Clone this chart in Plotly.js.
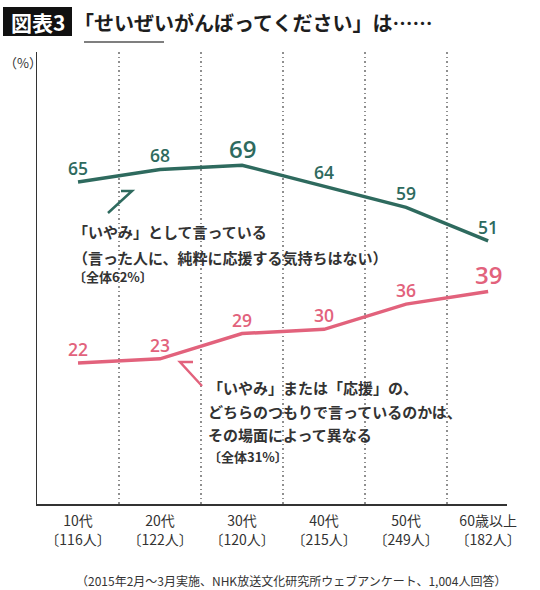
<!DOCTYPE html>
<html><head><meta charset="utf-8">
<script src="https://cdn.plot.ly/plotly-3.0.1.min.js"></script>
<style>html,body{margin:0;padding:0;background:#fff;}#chart{width:540px;height:590px;}</style>
</head><body><div id="chart"></div>
<script>
const categories = ["10代", "20代", "30代", "40代", "50代", "60歳以上"];
const respondents = ["116人", "122人", "120人", "215人", "249人", "182人"];
const iyami = [65, 68, 69, 64, 59, 51];
const dochira = [22, 23, 29, 30, 36, 39];
const titleBadge = "図表3";
const titleText = "「せいぜいがんばってください」は……";
const unitLabel = "（%）";
const noteIyami = ["「いやみ」として言っている", "（言った人に、純粋に応援する気持ちはない）", "〔全体62%〕"];
const noteDochira = ["「いやみ」または「応援」の、", "どちらのつもりで言っているのかは、", "その場面によって異なる", "〔全体31%〕"];
const footer = "（2015年2月～3月実施、NHK放送文化研究所ウェブアンケート、1,004人回答）";

const GREEN = "#2e6a5e", PINK = "#e2627c", TEXT = "#333333";
const JP = "'Noto Sans CJK JP', 'Noto Sans', sans-serif";
const NUM = "'Open Sans', 'Noto Sans', sans-serif";

// plot area in pixels: x 37..507, y 52..504
const L = 37, R = 507, T = 52, B = 504;
const px = v => (v - L) / (R - L);
const py = v => (B - v) / (B - T);

const xs = categories.map((c, i) => i);

const traces = [
  {x: xs, y: iyami, mode: "lines", line: {color: GREEN, width: 3.5}, hoverinfo: "skip"},
  {x: xs, y: dochira, mode: "lines", line: {color: PINK, width: 3.5}, hoverinfo: "skip"}
];

const annotations = [];
function addLabels(vals, color) {
  const mx = Math.max(...vals);
  vals.forEach((v, i) => {
    const big = v === mx;
    annotations.push({x: xs[i], y: v, xref: "x", yref: "y", text: String(v), showarrow: false,
      xanchor: "center", yanchor: "middle", yshift: big ? 17 : 14,
      font: {family: NUM, size: big ? 24 : 17.5, color: color, weight: 600}});
  });
}
addLabels(iyami, GREEN);
addLabels(dochira, PINK);

// title
annotations.push({xref: "paper", yref: "paper", x: px(37.5), y: py(22), xanchor: "center", yanchor: "middle",
  text: "<b>" + titleBadge + "</b>", showarrow: false, font: {family: JP, size: 21, color: "#ffffff"}});
annotations.push({xref: "paper", yref: "paper", x: px(72), y: py(22), xanchor: "left", yanchor: "middle",
  text: "<b>" + titleText + "</b>", showarrow: false, font: {family: JP, size: 20, color: "#1e1e1e"}});
annotations.push({xref: "paper", yref: "paper", x: px(2), y: py(62), xanchor: "left", yanchor: "middle",
  text: unitLabel, showarrow: false, font: {family: JP, size: 13, color: TEXT}});

const gy = [232, 257, 276];
noteIyami.forEach((t, i) => annotations.push({xref: "paper", yref: "paper", x: px(71), y: py(gy[i]),
  xanchor: "left", yanchor: "middle", text: t, showarrow: false,
  font: {family: JP, size: i === 2 ? 13 : 15, color: TEXT, weight: 600}}));
const pyy = [387, 411, 434, 456];
noteDochira.forEach((t, i) => annotations.push({xref: "paper", yref: "paper", x: px(206), y: py(pyy[i]),
  xanchor: "left", yanchor: "middle", text: t, showarrow: false,
  font: {family: JP, size: i === 3 ? 13 : 15, color: TEXT, weight: 600}}));

annotations.push({xref: "paper", yref: "paper", x: px(291), y: py(580), xanchor: "center", yanchor: "middle",
  text: footer, showarrow: false, font: {family: JP, size: 12, color: TEXT}});

const shapes = [
  {type: "rect", xref: "paper", yref: "paper", x0: px(3), x1: px(72), y0: py(7), y1: py(36),
   fillcolor: "#111111", line: {width: 0}, layer: "above"},
  {type: "line", xref: "paper", yref: "paper", x0: px(84), x1: px(164), y0: py(42), y1: py(42),
   line: {color: "#555555", width: 1.5}},
  {type: "path", xref: "paper", yref: "paper",
   path: `M ${px(121)} ${py(191)} L ${px(132)} ${py(191)} L ${px(108)} ${py(213)}`,
   line: {color: GREEN, width: 2.5}},
  {type: "path", xref: "paper", yref: "paper",
   path: `M ${px(193)} ${py(362)} L ${px(180)} ${py(362)} L ${px(202)} ${py(386)}`,
   line: {color: PINK, width: 2.5}}
];

const layout = {
  width: 540, height: 590,
  margin: {l: L, r: 540 - R, t: T, b: 590 - B, pad: 0},
  paper_bgcolor: "#ffffff", plot_bgcolor: "#ffffff",
  showlegend: false,
  xaxis: {
    range: [-0.5, 5.23], tickmode: "array", tickvals: xs,
    ticktext: categories.map((c, i) => c + "<br>〔" + respondents[i] + "〕"),
    showgrid: false, zeroline: false, showline: true, linecolor: "#333333", linewidth: 1.5,
    ticks: "", ticklabelstandoff: 4,
    tickfont: {family: JP, size: 14, color: TEXT},
    minor: {tickmode: "array", tickvals: xs.slice(0, 5).map(i => i + 0.5), showgrid: true,
      gridcolor: "#8f8f8f", griddash: "1.5px,3px", gridwidth: 1.3, ticks: ""},
    fixedrange: true
  },
  yaxis: {
    range: [-11.5, 95.9], showgrid: false, zeroline: false, showticklabels: false,
    showline: true, linecolor: "#333333", linewidth: 1.5, ticks: "", fixedrange: true
  },
  annotations: annotations,
  shapes: shapes
};

Plotly.newPlot("chart", traces, layout, {staticPlot: true, displayModeBar: false});
</script></body></html>
